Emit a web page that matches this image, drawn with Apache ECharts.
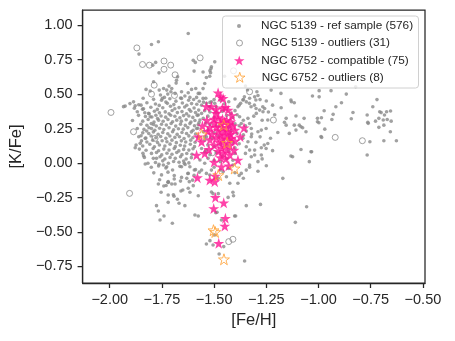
<!DOCTYPE html>
<html>
<head>
<meta charset="utf-8">
<script src="https://cdn.jsdelivr.net/npm/echarts@6/dist/echarts.min.js"></script>
<style>
  html, body { margin: 0; padding: 0; background: #fff; }
  #chart { width: 455px; height: 341px; }
</style>
</head>
<body>
<div id="chart"></div>
<script>
// [Fe/H], [K/Fe] pairs
const refSample = [
  // upper scattered
  [-1.624,0.94],[-1.86,0.79],[-1.80,0.86],[-1.767,0.88],[-1.794,0.71],[-1.78,0.73],[-1.764,0.654],[-1.59,0.73],
  [-1.60,0.745],[-1.596,0.667],[-1.68,0.60],[-1.682,0.58],[-1.675,0.625],[-1.627,0.577],[-1.79,0.59],[-1.497,0.734],
  [-1.52,0.67],[-1.515,0.685],[-1.553,0.66],[-1.537,0.62],[-1.45,0.63],[-1.35,0.558],[-1.513,0.698],[-1.517,0.655],
  [-1.521,0.63],[-1.545,0.577],[-1.553,0.54],
  // 0.45 - 0.56
  [-1.826,0.534],[-1.806,0.522],[-1.763,0.529],[-1.742,0.541],[-1.727,0.529],[-1.716,0.558],[-1.703,0.541],[-1.707,0.517],
  [-1.687,0.505],[-1.656,0.517],[-1.624,0.51],[-1.608,0.534],[-1.588,0.541],[-1.576,0.505],[-1.64,0.486],[-1.616,0.476],
  [-1.584,0.476],[-1.656,0.469],[-1.757,0.493],[-1.738,0.476],[-1.722,0.5],[-1.748,0.469],
  [-1.295,0.517],[-1.29,0.49],[-1.28,0.46],[-1.34,0.53],[-1.227,0.529],[-1.18,0.505],[-1.116,0.437],[-1.13,0.445],
  [-1.306,0.48],[-1.30,0.457],[-0.997,0.525],[-0.94,0.525],[-0.822,0.553],[-0.867,0.50],[-0.72,0.46],[-1.029,0.486],
  [-0.997,0.48],[-1.132,0.457],
  [-1.355,0.48],[-1.346,0.444],[-1.362,0.457],[-1.331,0.433],[-1.323,0.408],[-1.307,0.42],[-1.299,0.396],[-1.373,0.433],
  [-1.386,0.408],[-1.267,0.408],[-1.569,0.505],[-1.553,0.469],[-1.537,0.433],[-1.56,0.42],[-1.513,0.444],[-1.521,0.408],
  [-1.497,0.433],[-1.49,0.408],[-1.282,0.384],[-1.258,0.396],[-1.266,0.372],[-1.298,0.36],[-1.179,0.401],
  // right wing
  [-0.74,0.408],[-0.89,0.437],[-0.917,0.408],[-0.973,0.379],[-0.93,0.353],[-0.835,0.367],[-0.767,0.348],[-0.986,0.328],
  [-1.005,0.30],[-0.998,0.292],[-0.936,0.316],[-0.843,0.321],[-0.707,0.372],[-0.70,0.366],[-0.674,0.372],[-0.655,0.377],
  [-0.684,0.348],[-0.764,0.295],[-0.762,0.288],[-0.727,0.304],[-0.711,0.324],[-0.69,0.312],[-0.671,0.316],[-0.652,0.304],
  [-0.687,0.275],[-0.711,0.259],[-0.97,0.246],[-0.988,0.193],[-0.985,0.186],[-0.754,0.154],[-0.656,0.227],[-0.687,0.162],
  [-0.627,0.162],[-0.767,0.058],[-1.033,0.082],[-1.108,0.341],[-1.069,0.324],[-1.116,0.275],[-1.084,0.263],[-1.005,0.324],
  [-1.132,0.051],[-1.084,0.098],
  [-1.243,0.312],[-1.155,0.324],[-1.163,0.295],[-1.155,0.275],[-1.092,0.275],[-1.076,0.256],[-1.06,0.227],[-1.108,0.239],
  [-1.14,0.215],[-1.195,0.222],[-1.251,0.251],[-1.274,0.239],[-1.29,0.227],[-1.322,0.251],[-1.346,0.232],[-1.37,0.287],
  [-1.33,0.287],[-1.338,0.324],[-1.378,0.336],[-1.362,0.179],[-1.322,0.191],[-1.338,0.154],[-1.346,0.118],[-1.33,0.094],
  [-1.306,0.094],[-1.274,0.111],[-1.251,0.106],[-1.243,0.142],[-1.274,0.058],[-1.306,0.058],[-1.322,0.046],[-1.29,0.01],
  [-1.33,-0.014],[-1.346,-0.051],[-1.37,-0.075],[-1.41,-0.014],[-1.441,-0.099],[-1.386,-0.147],[-1.425,-0.147],
  [-1.171,-0.111],[-1.124,0.046],[-1.036,0.082],[-1.044,0.01],
  [-1.576,0.348],[-1.56,0.36],[-1.568,0.312],[-1.552,0.324],[-1.584,0.251],[-1.552,0.227],[-1.537,0.191],[-1.545,0.167],
  [-1.56,0.106],[-1.537,0.094],[-1.568,0.022],[-1.545,-0.002],[-1.529,0.034],[-1.56,-0.051],[-1.537,-0.075],[-1.513,-0.051],
  [-1.521,-0.087],[-1.457,-0.063],
  // left edge
  [-1.926,0.413],[-1.886,0.444],[-1.878,0.415],[-1.85,0.42],[-1.843,0.391],[-1.814,0.36],[-1.806,0.336],[-1.79,0.28],
  [-1.80,0.251],[-1.823,0.232],[-1.85,0.198],[-1.83,0.179],[-1.854,0.143],[-1.878,0.111],[-1.838,0.053],[-1.80,0.07],
  [-1.83,-0.007],[-1.817,-0.002],[-1.776,0.034],[-1.764,-0.009],[-1.743,-0.014],[-1.727,-0.027],[-1.699,-0.05],[-1.656,-0.027],
  [-1.643,-0.002],[-1.616,-0.027],[-1.624,-0.075],[-1.656,-0.104],[-1.595,-0.05],[-1.719,-0.14],
  // core
  [-1.84,0.47],[-1.79,0.462],[-1.752,0.455],[-1.712,0.466],[-1.683,0.449],[-1.661,0.472],[-1.622,0.455],[-1.598,0.461],
  [-1.571,0.448],[-1.731,0.442],
  [-1.903,0.431],[-1.861,0.423],[-1.822,0.437],[-1.781,0.428],[-1.763,0.418],[-1.724,0.433],[-1.693,0.424],[-1.652,0.436],
  [-1.631,0.419],[-1.608,0.431],[-1.583,0.426],[-1.551,0.442],
  [-1.934,0.409],[-1.882,0.398],[-1.838,0.393],[-1.803,0.405],[-1.772,0.389],[-1.746,0.401],[-1.709,0.412],[-1.688,0.394],
  [-1.668,0.402],[-1.641,0.407],[-1.619,0.388],[-1.596,0.399],[-1.574,0.384],
  [-1.868,0.372],[-1.832,0.365],[-1.811,0.358],[-1.786,0.376],[-1.762,0.364],[-1.734,0.371],[-1.716,0.357],[-1.701,0.381],
  [-1.676,0.366],[-1.654,0.373],[-1.632,0.358],[-1.612,0.376],[-1.589,0.366],
  [-1.862,0.346],[-1.829,0.338],[-1.798,0.334],[-1.779,0.347],[-1.754,0.341],[-1.732,0.333],[-1.708,0.347],[-1.688,0.339],
  [-1.664,0.329],[-1.646,0.344],[-1.621,0.341],[-1.602,0.331],[-1.581,0.346],[-1.771,0.323],
  [-1.891,0.309],[-1.842,0.304],[-1.816,0.316],[-1.788,0.298],[-1.766,0.311],[-1.744,0.303],[-1.721,0.316],[-1.699,0.299],
  [-1.679,0.311],[-1.657,0.304],[-1.634,0.314],[-1.611,0.298],[-1.592,0.309],[-1.572,0.294],
  [-1.851,0.281],[-1.822,0.274],[-1.801,0.286],[-1.777,0.269],[-1.752,0.281],[-1.729,0.276],[-1.706,0.287],[-1.684,0.268],
  [-1.661,0.282],[-1.638,0.273],[-1.616,0.286],[-1.594,0.271],[-1.576,0.279],
  [-1.868,0.251],[-1.836,0.244],[-1.812,0.256],[-1.784,0.238],[-1.761,0.252],[-1.741,0.243],[-1.716,0.256],[-1.694,0.241],
  [-1.671,0.249],[-1.648,0.246],[-1.626,0.257],[-1.601,0.238],[-1.578,0.252],
  [-1.842,0.219],[-1.813,0.214],[-1.791,0.226],[-1.768,0.209],[-1.746,0.221],[-1.722,0.213],[-1.699,0.227],[-1.677,0.208],
  [-1.654,0.221],[-1.632,0.214],[-1.609,0.226],[-1.589,0.211],
  [-1.861,0.191],[-1.827,0.181],[-1.802,0.196],[-1.779,0.184],[-1.756,0.192],[-1.731,0.179],[-1.712,0.196],[-1.688,0.186],
  [-1.666,0.191],[-1.644,0.178],[-1.621,0.197],[-1.602,0.184],[-1.577,0.189],
  [-1.848,0.161],[-1.822,0.153],[-1.794,0.166],[-1.771,0.149],[-1.749,0.162],[-1.726,0.154],[-1.702,0.166],[-1.681,0.148],
  [-1.657,0.161],[-1.636,0.153],[-1.612,0.166],[-1.591,0.151],
  [-1.874,0.131],[-1.842,0.124],[-1.808,0.136],[-1.786,0.118],[-1.762,0.131],[-1.736,0.124],[-1.711,0.137],[-1.686,0.119],
  [-1.662,0.129],[-1.641,0.124],[-1.614,0.136],[-1.594,0.119],
  [-1.858,0.101],[-1.826,0.093],[-1.792,0.106],[-1.766,0.089],[-1.741,0.101],[-1.716,0.094],[-1.691,0.106],[-1.669,0.088],
  [-1.646,0.099],[-1.621,0.094],[-1.601,0.104],
  [-1.841,0.071],[-1.776,0.076],[-1.751,0.059],[-1.726,0.071],[-1.702,0.064],[-1.679,0.076],[-1.654,0.061],[-1.631,0.069],
  [-1.606,0.064],
  [-1.834,0.041],[-1.791,0.034],[-1.759,0.046],[-1.736,0.029],[-1.711,0.041],[-1.686,0.034],[-1.661,0.046],[-1.634,0.029],
  [-1.609,0.039],
  [-1.781,0.004],[-1.746,0.016],[-1.719,-0.001],[-1.694,0.011],[-1.668,0.006],[-1.646,0.014],[-1.621,0.001],
  [-1.801,-0.031],[-1.766,-0.021],[-1.731,-0.036],[-1.664,-0.024],[-1.639,-0.011],[-1.589,-0.048],
  [-1.789,-0.071],[-1.752,-0.086],[-1.721,-0.066],[-1.691,-0.091],[-1.626,-0.076],[-1.596,-0.089],[-1.571,-0.066],
  [-1.761,-0.121],[-1.721,-0.139],[-1.691,-0.116],[-1.661,-0.131],[-1.631,-0.111],[-1.603,-0.124],
  // middle column (behind the stars)
  [-1.54,0.47],[-1.50,0.46],[-1.47,0.455],[-1.43,0.445],[-1.40,0.465],[-1.52,0.44],[-1.45,0.43],[-1.38,0.42],
  [-1.545,0.38],[-1.52,0.37],[-1.49,0.365],[-1.46,0.375],[-1.42,0.36],[-1.40,0.38],[-1.39,0.35],[-1.53,0.34],
  [-1.50,0.33],[-1.44,0.345],[-1.41,0.33],[-1.36,0.31],
  [-1.54,0.29],[-1.52,0.28],[-1.49,0.27],[-1.47,0.275],[-1.43,0.26],[-1.40,0.285],[-1.38,0.27],[-1.53,0.24],
  [-1.50,0.22],[-1.46,0.245],[-1.42,0.235],[-1.39,0.215],[-1.36,0.205],
  [-1.545,0.19],[-1.51,0.18],[-1.48,0.195],[-1.455,0.16],[-1.43,0.185],[-1.41,0.15],[-1.38,0.14],[-1.53,0.13],
  [-1.50,0.12],[-1.47,0.135],[-1.44,0.125],[-1.40,0.11],
  [-1.545,0.08],[-1.52,0.06],[-1.49,0.075],[-1.46,0.05],[-1.43,0.085],[-1.40,0.07],[-1.50,0.02],[-1.47,0.01],
  [-1.44,0.03],[-1.41,0.02],
  [-1.50,-0.03],[-1.47,-0.05],[-1.43,-0.04],[-1.40,-0.07],[-1.38,-0.09],[-1.48,-0.11],
  // right of the column
  [-1.36,0.46],[-1.33,0.47],[-1.25,0.45],[-1.22,0.42],[-1.24,0.37],[-1.21,0.35],[-1.31,0.34],[-1.27,0.31],
  [-1.35,0.27],[-1.32,0.21],[-1.28,0.19],[-1.23,0.18],[-1.30,0.15],[-1.26,0.13],[-1.22,0.09],[-1.35,0.07],
  [-1.27,0.03],[-1.33,-0.03],[-1.29,-0.06],[-1.25,-0.02],[-1.36,-0.11],
  // lower tail
  [-1.767,-0.152],[-1.741,-0.167],[-1.73,-0.163],[-1.72,-0.135],[-1.703,-0.152],[-1.687,-0.152],[-1.754,-0.212],[-1.72,-0.232],
  [-1.695,-0.23],[-1.692,-0.241],[-1.659,-0.203],[-1.65,-0.196],[-1.676,-0.263],[-1.668,-0.292],[-1.72,-0.285],[-1.776,-0.309],
  [-1.767,-0.348],[-1.74,-0.384],[-1.759,-0.413],[-1.70,-0.437],[-1.64,-0.309],[-1.619,-0.135],[-1.60,-0.164],[-1.624,-0.183],
  [-1.616,-0.212],[-1.576,-0.237],[-1.592,-0.377],[-1.576,-0.384],
  [-1.492,-0.36],[-1.465,-0.413],[-1.402,-0.384],[-1.111,-0.43],[-1.537,-0.587],[-1.52,-0.563],[-1.505,-0.594],[-1.497,-0.522],
  [-1.454,-0.606],[-1.476,-0.66],[-1.354,-0.71],
  [-1.513,-0.21],[-1.505,-0.222],[-1.48,-0.222],[-1.41,-0.212],[-1.407,-0.237],[-1.433,-0.249],[-1.346,-0.309],[-1.278,-0.3],
  [-1.057,-0.317],[-1.397,-0.384],[-1.486,-0.357]
];

const outliers5139 = [
  [-1.87,0.835],[-1.843,0.715],[-1.81,0.71],[-1.74,0.74],[-1.708,0.71],[-1.74,0.68],[-1.567,0.763],[-1.687,0.64],
  [-1.787,0.565],[-1.80,0.50],[-1.69,0.49],[-1.407,0.669],[-1.33,0.517],[-1.994,0.367],[-1.886,0.227],[-1.783,0.179],
  [-1.905,-0.22],[-1.216,0.312],[-0.92,0.186],[-0.79,0.162],[-1.43,-0.57],[-1.41,-0.553],[-1.508,0.075]
];

const compat6752 = [
  [-1.481,0.51],[-1.468,0.48],[-1.457,0.47],[-1.537,0.41],[-1.513,0.41],[-1.49,0.39],[-1.46,0.40],[-1.445,0.405],
  [-1.433,0.385],[-1.502,0.32],[-1.556,0.27],[-1.357,0.256],[-1.375,0.191],[-1.418,0.179],[-1.56,0.154],[-1.576,0.19],
  [-1.405,0.094],[-1.545,0.07],[-1.584,0.058],[-1.386,0.022],[-1.50,0.007],[-1.465,-0.027],[-1.58,-0.106],[-1.521,-0.123],
  [-1.497,-0.135],[-1.494,-0.094],[-1.494,-0.249],[-1.454,-0.288],[-1.502,-0.33],[-1.446,-0.40],[-1.449,-0.457],[-1.478,-0.582],
  [-1.48,0.33],[-1.46,0.32],[-1.44,0.31],[-1.42,0.30],[-1.50,0.29],[-1.47,0.29],[-1.45,0.30],[-1.43,0.28],
  [-1.41,0.27],[-1.52,0.26],[-1.49,0.26],[-1.46,0.26],[-1.44,0.255],[-1.40,0.24],[-1.53,0.23],[-1.48,0.235],
  [-1.455,0.23],[-1.43,0.225],[-1.51,0.21],[-1.47,0.205],[-1.445,0.20],[-1.42,0.21],[-1.49,0.185],[-1.46,0.175],
  [-1.43,0.17],[-1.52,0.17],[-1.40,0.16],[-1.475,0.15],[-1.45,0.14],[-1.50,0.13],[-1.425,0.13],[-1.465,0.11],
  [-1.44,0.10],[-1.48,0.085],[-1.455,0.07],[-1.425,0.06],[-1.47,0.04],[-1.445,0.03],[-1.535,0.31],[-1.415,0.345],
  [-1.49,0.36],[-1.43,-0.02],[-1.525,0.10]
];

const outliers6752 = [
  [-1.454,0.275],[-1.56,0.208],[-1.438,0.147],[-1.402,-0.039],[-1.48,-0.087],
  [-1.503,-0.487],[-1.495,-0.50],[-1.453,-0.698]
];

const seriesNames = [
  "NGC 5139 - ref sample (576)",
  "NGC 5139 - outliers (31)",
  "NGC 6752 - compatible (75)",
  "NGC 6752 - outliers (8)"
];
const xTicks = [-2, -1.75, -1.5, -1.25, -1, -0.75, -0.5];
const yTicks = [-0.75, -0.5, -0.25, 0, 0.25, 0.5, 0.75, 1];

const STAR = "path://M50,2 L61.2,36.6 L97.6,36.6 L68.2,58 L79.4,92.6 L50,71.2 L20.6,92.6 L31.8,58 L2.4,36.6 L38.8,36.6 Z";
const INK = "#262626";
const FONT = "'Liberation Sans', Arial, sans-serif";

function fmt(v) {
  return (v < 0 ? "\u2212" : "") + Math.abs(v).toFixed(2);
}

// one legend per row so each marker keeps its own size;
// the legend box snaps to the drawn icon, so left = marker centre - size/2
function legendRow(name, icon, size, rowCenter, style) {
  return {
    data: [{ name: name, icon: icon }],
    left: 239 - size / 2,
    top: rowCenter - 8,
    padding: 0,
    itemWidth: 34,
    itemHeight: size,
    selectedMode: false,
    itemStyle: style,
    textStyle: { color: INK, fontSize: 11.8, fontFamily: FONT, lineHeight: 16 },
  };
}

const chart = echarts.init(document.getElementById("chart"), null, { renderer: "canvas" });

const option = {
  animation: false,
  backgroundColor: "#fff",
  grid: {
    left: 81, right: 30, top: 10, bottom: 58,
    show: true, borderColor: INK, borderWidth: 1.25, backgroundColor: "transparent",
  },
  xAxis: {
    type: "value",
    min: -2.13, max: -0.49,
    name: "[Fe/H]",
    nameLocation: "middle",
    nameGap: 28,
    nameTextStyle: { color: INK, fontSize: 16.5, fontFamily: FONT },
    axisLine: { onZero: false, lineStyle: { color: INK, width: 1.25 } },
    axisTick: { customValues: xTicks, length: 5, lineStyle: { color: INK, width: 1.25 } },
    axisLabel: { customValues: xTicks, formatter: fmt, color: INK, fontSize: 14.5, fontFamily: FONT, margin: 9 },
    splitLine: { show: false },
  },
  yAxis: {
    type: "value",
    min: -0.87, max: 1.11,
    name: "[K/Fe]",
    nameLocation: "middle",
    nameGap: 56,
    nameRotate: 90,
    nameTextStyle: { color: INK, fontSize: 16.5, fontFamily: FONT },
    axisLine: { onZero: false, lineStyle: { color: INK, width: 1.25 } },
    axisTick: { customValues: yTicks, length: 5, lineStyle: { color: INK, width: 1.25 } },
    axisLabel: { customValues: yTicks, formatter: fmt, color: INK, fontSize: 14.5, fontFamily: FONT, margin: 10 },
    splitLine: { show: false },
  },
  legend: [
    legendRow(seriesNames[0], "circle", 4, 26, { color: "#8a8a8a", borderWidth: 0 }),
    legendRow(seriesNames[1], "circle", 6, 43, { color: "transparent", borderColor: "#8a8a8a", borderWidth: 1 }),
    legendRow(seriesNames[2], STAR, 10, 60.5, { color: "#ff1493", borderWidth: 0 }),
    legendRow(seriesNames[3], STAR, 10, 77.3, { color: "transparent", borderColor: "#ffa033", borderWidth: 1 }),
  ],
  graphic: [
    {
      type: "rect",
      z: 3,
      shape: { x: 222.5, y: 16, width: 196, height: 72, r: 3 },
      style: { fill: "rgba(255,255,255,0.8)", stroke: "#d0d0d0", lineWidth: 1 },
    },
  ],
  series: [
    {
      name: seriesNames[0],
      type: "scatter",
      data: refSample,
      symbol: "circle",
      symbolSize: 3.6,
      itemStyle: { color: "#8a8a8a" },
    },
    {
      name: seriesNames[1],
      type: "scatter",
      data: outliers5139,
      symbol: "circle",
      symbolSize: 6,
      itemStyle: { color: "transparent", borderColor: "#8a8a8a", borderWidth: 1 },
    },
    {
      name: seriesNames[2],
      type: "scatter",
      data: compat6752,
      symbol: STAR,
      symbolSize: 11,
      itemStyle: { color: "#ff1493" },
    },
    {
      name: seriesNames[3],
      type: "scatter",
      data: outliers6752,
      symbol: STAR,
      symbolSize: 11,
      itemStyle: { color: "transparent", borderColor: "#ffa033", borderWidth: 1 },
    },
  ],
};

chart.setOption(option);
</script>
</body>
</html>
